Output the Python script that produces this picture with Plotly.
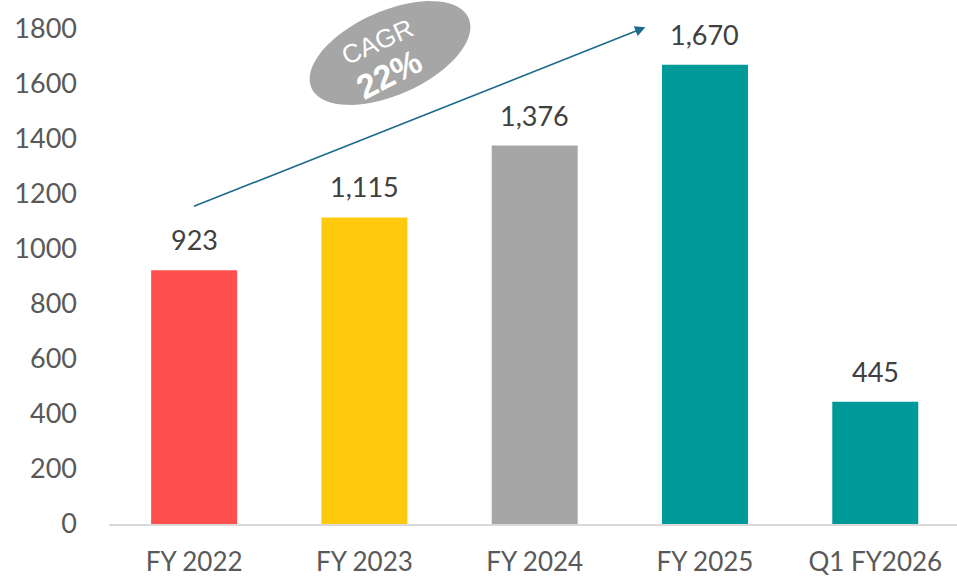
import math
import plotly.graph_objects as go

categories = ["FY 2022", "FY 2023", "FY 2024", "FY 2025", "Q1 FY2026"]
values = [923, 1115, 1376, 1670, 445]
value_labels = ["923", "1,115", "1,376", "1,670", "445"]
bar_colors = ["#FF5050", "#FFC90E", "#A6A6A6", "#009999", "#009999"]
y_ticks = [0, 200, 400, 600, 800, 1000, 1200, 1400, 1600, 1800]

W, H = 957, 578
L, R, T, B = 109, 0, 29, 54
pw, ph = W - L - R, H - T - B

def px2paper(px, py):
    return (px - L) / pw, (H - B - py) / ph

fig = go.Figure()
fig.add_trace(go.Bar(
    x=categories, y=values, marker=dict(color=bar_colors, line=dict(width=0)),
    hoverinfo="skip", showlegend=False,
))

font_main = "Lato, 'Open Sans', sans-serif"
annotations = []
for c, v, t in zip(categories, values, value_labels):
    annotations.append(dict(x=c, y=v, text=t, showarrow=False, yanchor="bottom",
                            yshift=12, font=dict(size=27, color="#404040", family=font_main)))

# CAGR arrow
annotations.append(dict(x=2.65, y=1806, ax=-0.01, ay=1153, xref="x", yref="y",
                        axref="x", ayref="y", text="", showarrow=True,
                        arrowhead=2, arrowsize=1.3, arrowwidth=1.6, arrowcolor="#1E6A8C"))

# ellipse (rotated) as path in paper coords
cx, cy, a, b, ang = 390, 53, 86, 42, math.radians(-24)
pts = []
for i in range(73):
    t = 2 * math.pi * i / 72
    ex, ey = a * math.cos(t), b * math.sin(t)
    rx = cx + ex * math.cos(ang) - ey * math.sin(ang)
    ry = cy + ex * math.sin(ang) + ey * math.cos(ang)
    pts.append(px2paper(rx, ry))
path = "M " + " L ".join(f"{x:.5f},{y:.5f}" for x, y in pts) + " Z"

px_c, py_c = px2paper(377, 42)
px_p, py_p = px2paper(389, 74)
annotations.append(dict(x=px_c, y=py_c, xref="paper", yref="paper", text="CAGR", showarrow=False,
                        xanchor="center", yanchor="middle",
                        textangle=-24, font=dict(size=26, color="white", family="Liberation Sans, Arial")))
annotations.append(dict(x=px_p, y=py_p, xref="paper", yref="paper", text="<b>22%</b>", showarrow=False,
                        xanchor="center", yanchor="middle",
                        textangle=-27, font=dict(size=34, color="white", family="Liberation Sans, Arial")))

fig.update_layout(
    width=W, height=H,
    margin=dict(l=L, r=R, t=T, b=B, pad=0),
    paper_bgcolor="white", plot_bgcolor="white",
    bargap=0.495,
    shapes=[dict(type="path", path=path, xref="paper", yref="paper",
                 fillcolor="#A6A6A6", line=dict(width=0), layer="above")],
    annotations=annotations,
    xaxis=dict(range=[-0.5, 4.48], showgrid=False, showline=True, linecolor="#D9D9D9", linewidth=1.5,
               ticks="", tickfont=dict(size=26, color="#595959", family=font_main),
               ticklabelstandoff=14),
    yaxis=dict(range=[0, 1800], tickvals=y_ticks, showgrid=False, zeroline=False,
               showline=False, ticks="", ticklabelstandoff=31,
               tickfont=dict(size=27, color="#595959", family=font_main)),
)

fig.write_html("out.html", config={"displayModeBar": False},
               post_script="document.body.style.margin='0';document.body.style.overflow='hidden';")
